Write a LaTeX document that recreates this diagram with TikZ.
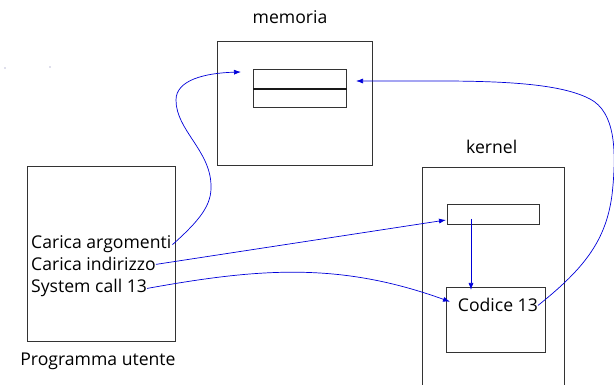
\documentclass[tikz,border=0pt]{standalone}
\usepackage{fontspec}
\setmainfont{Open Sans}
\usetikzlibrary{arrows.meta}
\begin{document}
\begin{tikzpicture}[x=1pt,y=-1pt,
  box/.style={draw=black!80, line width=0.9pt, inner sep=0pt, anchor=north west},
  link/.style={draw=blue!85!black, line width=0.7pt, -{Latex[length=7pt,width=5pt]}},
  lbl/.style={font=\fontsize{17.6}{21}\selectfont, inner sep=0pt},
]
\useasboundingbox (0,0) rectangle (614,385);

% memory block with two slots
\node[box, minimum width=155.6pt, minimum height=124pt] (mem) at (216.7,41.3) {};
\node[box, minimum width=92.7pt, minimum height=18.7pt] (slotA) at (253.3,69) {};
\node[box, minimum width=92.7pt, minimum height=19pt] (slotB) at (253.3,87.7) {};
\draw[line width=2pt, black!90] (slotA.south west) -- (slotA.south east);
\node[lbl] (memlbl) at (290,17) {memoria};

% user program
\node[box, minimum width=148.5pt, minimum height=175.3pt] (prog) at (26.5,165.7) {};
\node[lbl, anchor=base west] (arg) at (31,249) {Carica argomenti};
\node[lbl, anchor=base west] (ind) at (31,271) {Carica indirizzo};
\node[lbl, anchor=base west] (sys) at (31,293) {System call 13};
\node[lbl] (proglbl) at (98,361) {Programma utente};

% kernel
\node[box, minimum width=142.6pt, minimum height=232pt] (kern) at (421.7,167) {};
\node[lbl] (kernlbl) at (491.7,147) {kernel};
\node[box, minimum width=92.3pt, minimum height=19.4pt] (kslot) at (447,204.3) {};
\node[box, minimum width=99.6pt, minimum height=65.6pt] (code) at (445.7,286.7) {};
\node[lbl, anchor=base west] (codelbl) at (457.7,312) {Codice 13};

% free ends of the connectors
\coordinate (memin) at (241,72);
\coordinate (memret) at (356,81);
\coordinate (kin) at (446,220);
\coordinate (kdown) at (471,219);
\coordinate (codein) at (471,290);
\coordinate (codeleft) at (450,301.7);

% connectors
\draw[link] ([xshift=1pt]arg.east) .. controls (200,220) and (212,205) .. (211,185)
  .. controls (210,150) and (176,130) .. (176,100)
  .. controls (176,80) and (205,73) .. (memin);
\draw[link] (ind.east) -- (kin);
\draw[link] (sys.east) .. controls (260,268) and (340,262) .. (codeleft);
\draw[link] (kdown) -- (codein);
\draw[link] (codelbl.east) .. controls (585,268) and (606,240) .. (612,195)
  .. controls (617,150) and (615,112) .. (590,99)
  .. controls (565,86) and (520,81) .. (440,81) -- (memret);

% faint marks in the upper left
\fill[blue!25!gray!40] (5,68) circle (0.8pt);
\fill[blue!25!gray!40] (50,67) circle (0.8pt);
\end{tikzpicture}
\end{document}
